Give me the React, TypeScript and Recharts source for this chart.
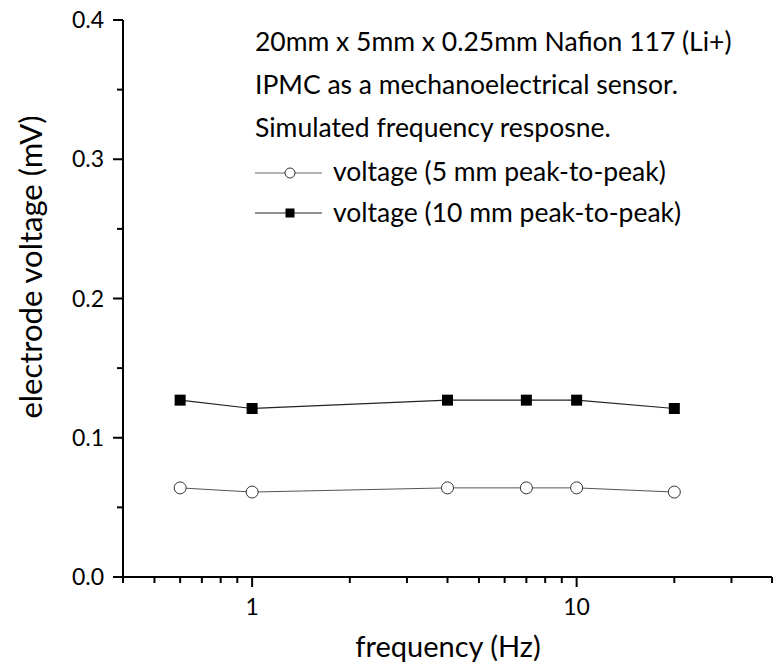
import { LineChart, Line, XAxis, YAxis } from "recharts";

const frequencies = [0.6, 1, 4, 7, 10, 20];
const voltage5mm = [0.064, 0.061, 0.064, 0.064, 0.064, 0.061];
const voltage10mm = [0.127, 0.121, 0.127, 0.127, 0.127, 0.121];

const xTicks = [
  0.4, 0.5, 0.6, 0.7, 0.8, 0.9, 1, 2, 3, 4, 5, 6, 7, 8, 9, 10, 20, 30, 40,
];
const xMajor = [1, 10];
const yTicks = [0, 0.05, 0.1, 0.15, 0.2, 0.25, 0.3, 0.35, 0.4];
const yMajor = [0, 0.1, 0.2, 0.3, 0.4];

const notes = [
  "20mm x 5mm x 0.25mm Nafion 117 (Li+)",
  "IPMC as a mechanoelectrical sensor.",
  "Simulated frequency resposne.",
];
const legendLabels = [
  "voltage (5 mm peak-to-peak)",
  "voltage (10 mm peak-to-peak)",
];

const data = frequencies.map((f, i) => ({
  f,
  v5: voltage5mm[i],
  v10: voltage10mm[i],
}));

const FONT = "Lato, 'Open Sans', sans-serif";

function XTick({ x, y, payload }: any) {
  const major = xMajor.includes(payload.value);
  return (
    <g>
      <line x1={x} x2={x} y1={y} y2={y + (major ? 10 : 6)} stroke="#000" strokeWidth={2} />
      {major && (
        <text x={x} y={y + 38} textAnchor="middle" fontSize={23} fontFamily={FONT} fill="#000">
          {payload.value}
        </text>
      )}
    </g>
  );
}

function YTick({ x, y, payload }: any) {
  const major = yMajor.some((m) => Math.abs(m - payload.value) < 1e-9);
  return (
    <g>
      <line x1={x} x2={x - (major ? 10 : 6)} y1={y} y2={y} stroke="#000" strokeWidth={2} />
      {major && (
        <text x={x - 19} y={y + 8} textAnchor="end" fontSize={23} fontFamily={FONT} fill="#000">
          {payload.value.toFixed(1)}
        </text>
      )}
    </g>
  );
}

function CircleDot({ cx, cy }: any) {
  return <circle cx={cx} cy={cy} r={6} fill="#fff" stroke="#333" strokeWidth={1} />;
}

function SquareDot({ cx, cy }: any) {
  return <rect x={cx - 5.5} y={cy - 5.5} width={11} height={11} fill="#000" />;
}

export default function App() {
  return (
    <div style={{ position: "absolute", left: 0, top: 0, background: "#fff" }}>
      <LineChart
        width={778}
        height={671}
        data={data}
        margin={{ top: 20, right: 6, bottom: 34, left: 63 }}
      >
        <XAxis
          dataKey="f"
          type="number"
          scale="log"
          domain={[0.4, 40]}
          ticks={xTicks}
          interval={0}
          allowDataOverflow
          height={60}
          tickSize={0}
          tickMargin={0}
          tickLine={false}
          tick={<XTick />}
          axisLine={{ stroke: "#000", strokeWidth: 2 }}
        />
        <YAxis
          type="number"
          domain={[0, 0.4]}
          ticks={yTicks}
          interval={0}
          width={60}
          tickSize={0}
          tickMargin={0}
          tickLine={false}
          tick={<YTick />}
          axisLine={{ stroke: "#000", strokeWidth: 2 }}
        />
        <Line
          dataKey="v5"
          stroke="#555"
          strokeWidth={1}
          dot={<CircleDot />}
          isAnimationActive={false}
        />
        <Line
          dataKey="v10"
          stroke="#222"
          strokeWidth={1.2}
          dot={<SquareDot />}
          isAnimationActive={false}
        />
        <text x={448} y={657} textAnchor="middle" fontSize={29} fontFamily={FONT} fill="#000">
          frequency (Hz)
        </text>
        <text
          x={42}
          y={267}
          textAnchor="middle"
          fontSize={31}
          fontFamily={FONT}
          fill="#000"
          transform="rotate(-90, 42, 267)"
        >
          electrode voltage (mV)
        </text>
        {notes.map((t, i) => (
          <text key={t} x={255} y={51 + i * 43} fontSize={26.5} fontFamily={FONT} fill="#000">
            {t}
          </text>
        ))}
        <line x1={255} x2={322} y1={173} y2={173} stroke="#666" strokeWidth={1} />
        <circle cx={290} cy={173} r={5} fill="#fff" stroke="#333" strokeWidth={1} />
        <text x={333} y={181} fontSize={26.5} fontFamily={FONT} fill="#000">
          {legendLabels[0]}
        </text>
        <line x1={255} x2={322} y1={213} y2={213} stroke="#222" strokeWidth={1.2} />
        <rect x={285.5} y={208.5} width={9} height={9} fill="#000" />
        <text x={333} y={222} fontSize={26.5} fontFamily={FONT} fill="#000">
          {legendLabels[1]}
        </text>
      </LineChart>
    </div>
  );
}
